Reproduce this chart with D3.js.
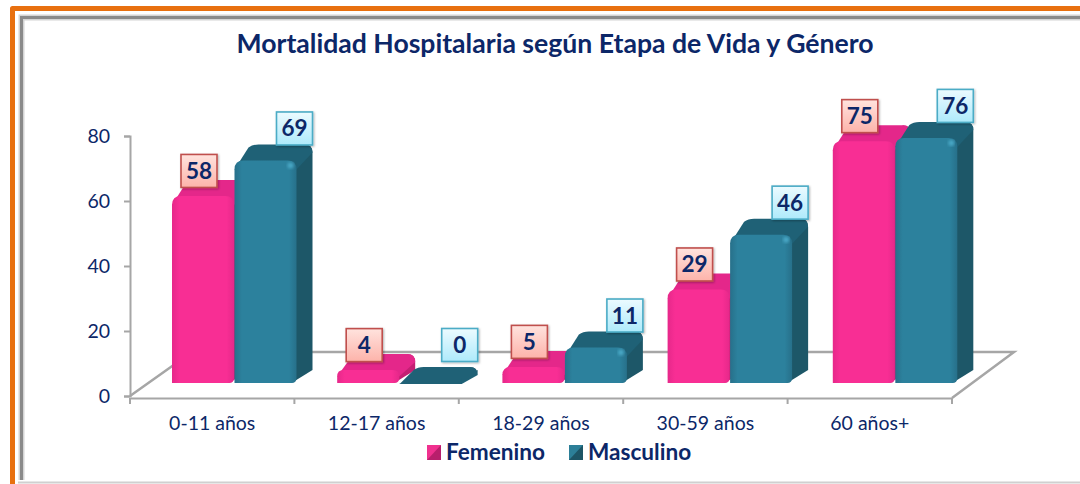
<!DOCTYPE html>
<html>
<head>
<meta charset="utf-8">
<script src="https://cdnjs.cloudflare.com/ajax/libs/d3/7.8.5/d3.min.js"></script>
<style>
html, body { margin: 0; padding: 0; background: #fff; }
svg { display: block; }
text { font-family: Lato, "Open Sans", sans-serif; fill: #0c2768; }
</style>
</head>
<body>
<div id="chart"></div>
<script>
var title = "Mortalidad Hospitalaria según Etapa de Vida y Género";
var categories = ["0-11 años", "12-17 años", "18-29 años", "30-59 años", "60 años+"];
var femenino = [58, 4, 5, 29, 75];
var masculino = [69, 0, 11, 46, 76];
var seriesNames = ["Femenino", "Masculino"];
var yTicks = [0, 20, 40, 60, 80];

var width = 1080, height = 484;
var navy = "#0c2768";

var svg = d3.select("#chart").append("svg").attr("width", width).attr("height", height);
var defs = svg.append("defs");

// horizontal gradient for the front of each bar
function frontGradient(id, edge, mid) {
	var g = defs.append("linearGradient").attr("id", id);
	g.append("stop").attr("offset", "0%").attr("stop-color", edge);
	g.append("stop").attr("offset", "12%").attr("stop-color", mid);
	g.append("stop").attr("offset", "88%").attr("stop-color", mid);
	g.append("stop").attr("offset", "100%").attr("stop-color", edge);
}
frontGradient("frontF", "#e6288a", "#f82e94");
frontGradient("frontM", "#27708a", "#2c819d");

function labelGradient(id, top, bottom) {
	var g = defs.append("linearGradient").attr("id", id).attr("x2", 0).attr("y2", 1);
	g.append("stop").attr("offset", "0%").attr("stop-color", top);
	g.append("stop").attr("offset", "100%").attr("stop-color", bottom);
}
labelGradient("labelF", "#ffe3de", "#fdb3aa");
labelGradient("labelM", "#ecfbff", "#aeeafb");

var shadow = defs.append("filter").attr("id", "soft")
	.attr("x", "-20%").attr("y", "-20%").attr("width", "140%").attr("height", "140%");
shadow.append("feDropShadow").attr("dx", 1).attr("dy", 1).attr("stdDeviation", 1)
	.attr("flood-color", "#000").attr("flood-opacity", 0.3);
defs.append("filter").attr("id", "blur").append("feGaussianBlur").attr("stdDeviation", 1.6);

// page frame
var frame = svg.append("g");
frame.append("path").attr("d", "M12.5,484V8.5H1080").attr("fill", "none")
	.attr("stroke", "#e8700f").attr("stroke-width", 5).attr("stroke-linejoin", "round");
frame.append("path").attr("d", "M21.5,480V17.5H1080").attr("fill", "none")
	.attr("stroke", "#d4d4d4").attr("stroke-width", 6);
frame.append("path").attr("d", "M21.5,480V17.5H1080").attr("fill", "none")
	.attr("stroke", "#8a8a8a").attr("stroke-width", 3);
frame.append("path").attr("d", "M18,482.5H1080").attr("fill", "none")
	.attr("stroke", "#d0d0d0").attr("stroke-width", 2);

svg.append("text").attr("x", 555).attr("y", 53).attr("text-anchor", "middle")
	.attr("font-size", 26.6).attr("font-weight", 700).text(title);

// scales: the axes sit on the front edge of the floor, the bars further in
var y = d3.scaleLinear().domain([0, 80]).range([396, 136]);
var yBar = d3.scaleLinear().domain([0, 80]).range([383, 125]);
var x = d3.scaleBand().domain(categories).range([130, 952]);
var xBar = d3.scaleBand().domain(categories).range([172, 998]);
var xInner = d3.scaleBand().domain(seriesNames).range([0, 125]);

var depthX = 16, depthY = 16, barWidth = 62;

// floor of the 3d box
var gray = "#a6a6a6";
svg.append("path")
	.attr("d", "M130,396L192,352H1014L952,398")
	.attr("fill", "none").attr("stroke", gray).attr("stroke-width", 2.5);

// axes
var yAxis = d3.axisLeft(y).tickValues(yTicks).tickSize(6).tickPadding(14);
var yG = svg.append("g").attr("transform", "translate(130,0)").call(yAxis);
var xAxis = d3.axisBottom(x).tickSize(0).tickPadding(18);
var xG = svg.append("g").attr("transform", "translate(0,398)").call(xAxis);
xG.selectAll(".edge").data(categories.concat(["end"])).enter().append("line")
	.attr("class", "edge")
	.attr("x1", function (d, i) { return x.range()[0] + i * x.step(); })
	.attr("x2", function (d, i) { return x.range()[0] + i * x.step(); })
	.attr("y1", 0).attr("y2", 6);
[yG, xG].forEach(function (g) {
	g.selectAll("path, line").attr("stroke", gray).attr("stroke-width", 2);
	g.selectAll("text").attr("font-size", 19.5).style("fill", navy);
});

// one 3d bar with rounded corners, front face + top + right side
function drawBar(g, left, value, colors) {
	var base = yBar(0), top = yBar(value);
	var h = base - top;
	var r = Math.min(9, Math.max(h / 2, 1));
	var right = left + barWidth;
	var dx = depthX, dy = depthY;
	var backR = 8;

	g.append("path")
		.attr("d", "M" + (right - 5) + "," + base +
			"L" + (right + dx) + "," + (base - dy + 3) +
			"V" + (top - dy + backR) +
			"Q" + (right + dx) + "," + (top - dy) + " " + (right + dx - backR) + "," + (top - dy) +
			"L" + (right - 2) + "," + top + "Z")
		.attr("fill", colors.side);

	g.append("path")
		.attr("d", "M" + left + "," + (top + r) +
			"L" + (left + dx - 2) + "," + (top - dy + 3) +
			"Q" + (left + dx + 2) + "," + (top - dy) + " " + (left + dx + 8) + "," + (top - dy) +
			"H" + (right + dx - backR) +
			"Q" + (right + dx) + "," + (top - dy) + " " + (right + dx) + "," + (top - dy + backR) +
			"L" + right + "," + (top + r) + "Z")
		.attr("fill", colors.top);

	g.append("path")
		.attr("d", "M" + left + "," + base +
			"V" + (top + r) +
			"Q" + left + "," + top + " " + (left + r) + "," + top +
			"H" + (right - r) +
			"Q" + right + "," + top + " " + right + "," + (top + r) +
			"V" + (base - 5) +
			"Q" + right + "," + base + " " + (right - 5) + "," + base + "Z")
		.attr("fill", value > 0 ? colors.front : colors.top);

	if (value > 0 && colors.glint) {
		g.append("circle").attr("cx", right - 6).attr("cy", top + 5).attr("r", 3)
			.attr("fill", colors.glint).attr("filter", "url(#blur)");
	}
}

var pink = { front: "url(#frontF)", top: "#e4278a", side: "#c41f73" };
var teal = { front: "url(#frontM)", top: "#1f6176", side: "#1d5768", glint: "#4aa8c6" };

var bars = svg.append("g");
categories.forEach(function (c, i) {
	var g = bars.append("g");
	drawBar(g, xBar(c) + xInner("Femenino"), femenino[i], pink);
	drawBar(g, xBar(c) + xInner("Masculino"), masculino[i], teal);
});

// value boxes, drawn after all bars
function valueBox(cx, cy, value, fill, stroke) {
	var g = svg.append("g");
	g.append("rect").attr("x", cx - 18).attr("y", cy - 16.5).attr("width", 36).attr("height", 33)
		.attr("fill", fill).attr("stroke", stroke).attr("stroke-width", 1.6)
		.attr("filter", "url(#soft)");
	g.append("text").attr("x", cx).attr("y", cy + 8).attr("text-anchor", "middle")
		.attr("font-size", 22.5).attr("font-weight", 700).text(value);
}
categories.forEach(function (c, i) {
	valueBox(xBar(c) + xInner("Femenino") + 27, yBar(femenino[i]) - 25, femenino[i], "url(#labelF)", "#c0504d");
	valueBox(xBar(c) + xInner("Masculino") + 60, Math.min(yBar(masculino[i]) - 32, yBar(0) - 38), masculino[i], "url(#labelM)", "#4bacc6");
});

// legend
var legendX = d3.scaleOrdinal().domain(seriesNames).range([427, 569]);
var legendColors = d3.scaleOrdinal().domain(seriesNames).range([["#f0318f", "#b81f6c"], ["#2c7f98", "#1d5566"]]);
var legend = svg.selectAll(".legend").data(seriesNames).enter().append("g").attr("class", "legend")
	.attr("transform", function (d) { return "translate(" + legendX(d) + ",445)"; });
legend.append("rect").attr("width", 14).attr("height", 15)
	.attr("fill", function (d) { return legendColors(d)[1]; });
legend.append("path").attr("d", "M0,0H14L0,15Z")
	.attr("fill", function (d) { return legendColors(d)[0]; });
legend.append("text").attr("x", 19).attr("y", 15)
	.attr("font-size", 22.6).attr("font-weight", 700).text(function (d) { return d; });
</script>
</body>
</html>
